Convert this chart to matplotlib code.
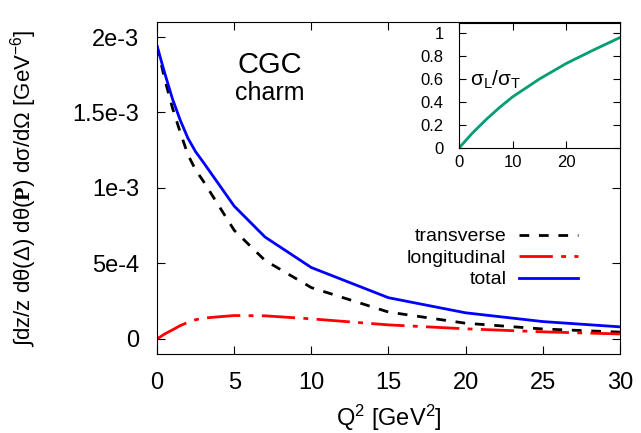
import matplotlib.pyplot as plt
import numpy as np

plt.rcParams['font.family'] = ['Liberation Sans', 'DejaVu Sans']
plt.rcParams['mathtext.fontset'] = 'custom'
plt.rcParams['mathtext.rm'] = 'Liberation Sans'
plt.rcParams['mathtext.it'] = 'Liberation Sans:italic'
plt.rcParams['mathtext.bf'] = 'Liberation Serif:bold'

# Q^2 [GeV^2]
q2 = [0, 0.5, 1, 1.5, 2, 2.5, 3, 5, 7, 10, 15, 20, 25, 30]
total = [1.94e-3, 1.76e-3, 1.59e-3, 1.45e-3, 1.33e-3, 1.24e-3, 1.17e-3,
         0.88e-3, 0.675e-3, 0.473e-3, 0.273e-3, 0.173e-3, 0.115e-3, 0.080e-3]
transverse = [1.94e-3, 1.72e-3, 1.53e-3, 1.37e-3, 1.22e-3, 1.12e-3, 1.045e-3,
              0.72e-3, 0.52e-3, 0.34e-3, 0.178e-3, 0.104e-3, 0.066e-3, 0.045e-3]
longitudinal = [0.0, 0.033e-3, 0.06e-3, 0.088e-3, 0.11e-3, 0.127e-3, 0.138e-3,
                0.155e-3, 0.153e-3, 0.133e-3, 0.093e-3, 0.067e-3, 0.047e-3, 0.033e-3]

# inset: sigma_L / sigma_T
q2_ratio = [0, 2.5, 5, 7.5, 10, 15, 20, 25, 30]
ratio = [0, 0.13, 0.245, 0.35, 0.445, 0.60, 0.735, 0.85, 0.96]

yticks = [0, 5e-4, 1e-3, 1.5e-3, 2e-3]
ytick_labels = ['0', '5e-4', '1e-3', '1.5e-3', '2e-3']

fig = plt.figure(figsize=(6.41, 4.33), dpi=100)
ax = fig.add_axes([0.245, 0.1824, 0.722, 0.767])

ax.plot(q2, transverse, color='black', linewidth=2, dashes=(3.5, 3.5), label='transverse')
ax.plot(q2, longitudinal, color='#ff0000', linewidth=2, dashes=(12, 3, 1.75, 3), label='longitudinal')
ax.plot(q2, total, color='#0000ff', linewidth=2, label='total')

ax.set_xlim(0, 30)
ax.set_ylim(-1e-4, 2.1e-3)
ax.set_xticks(range(0, 31, 5))
ax.set_yticks(yticks)
ax.set_yticklabels(ytick_labels)
ax.tick_params(direction='in', top=True, right=True, length=6, labelsize=17, pad=13)
ax.set_xlabel('Q$^2$ [GeV$^2$]', fontsize=17, labelpad=6)
ax.set_ylabel('∫dz/z dθ(Δ) dθ($\\mathbf{P}$) dσ/dΩ [GeV$^{-6}$]', fontsize=16)
ax.yaxis.set_label_coords(-0.255, 0.5)

# label texts, placed by baseline
ax.text(7.3, 1.76e-3, 'CGC', fontsize=21, ha='center', va='baseline')
ax.text(7.3, 1.58e-3, 'charm', fontsize=18, ha='center', va='baseline')

ax.legend(loc='upper right', bbox_to_anchor=(0.909, 0.38), frameon=False,
          markerfirst=False, fontsize=14, handlelength=3.0, labelspacing=0.2,
          borderpad=0, borderaxespad=0, handletextpad=0.67)

# Inset
axin = fig.add_axes([0.716, 0.658, 0.251, 0.289])
axin.plot(q2_ratio, ratio, color='#009e73', linewidth=2)
axin.set_xlim(0, 30)
axin.set_ylim(0, 1.087)
axin.set_xticks([0, 10, 20])
axin.set_yticks([0, 0.2, 0.4, 0.6, 0.8, 1])
axin.set_yticklabels(['0', '0.2', '0.4', '0.6', '0.8', '1'])
axin.tick_params(axis='both', direction='in', top=True, right=True, length=5, labelsize=12)
axin.tick_params(axis='y', pad=11)
axin.tick_params(axis='x', pad=5)
axin.text(2.05, 0.59, 'σ$_{\\mathrm{L}}$/σ$_{\\mathrm{T}}$', fontsize=15, va='center')

fig.savefig('out.png', dpi=100)
